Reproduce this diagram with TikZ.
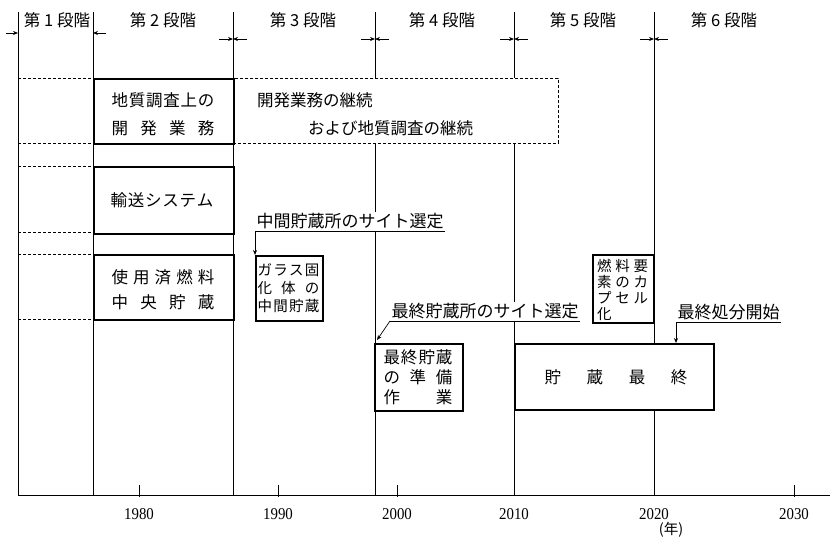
\documentclass[tikz,border=0pt]{standalone}
\usepackage{fontspec}
\setmainfont{Liberation Serif}
\newfontfamily\jp{Noto Sans CJK JP}
\usetikzlibrary{arrows.meta}
\newcommand{\dst}[2]{\makebox[#1][s]{#2}}
\begin{document}
\begin{tikzpicture}[x=1pt,y=-1pt,
  vline/.style={line width=0.9pt},
  dline/.style={line width=0.7pt, dash pattern=on 3pt off 2pt},
  box/.style={draw, line width=2pt, fill=white, inner sep=0pt, anchor=north west},
  jtxt/.style={font=\jp\fontsize{16.5}{18}\selectfont, inner sep=0pt},
  stxt/.style={font=\jp\fontsize{14.5}{16}\selectfont, inner sep=0pt},
  lbl/.style={font=\jp\fontsize{17}{18}\selectfont, fill=white, inner sep=1.5pt},
  ph/.style={font=\jp\fontsize{16.5}{18}\selectfont, inner sep=0pt},
  num/.style={font=\fontsize{16.5}{18}\selectfont, inner sep=0pt, xscale=0.9},
  arr/.style={-{Stealth[length=5pt,width=4pt]}, line width=0.7pt},
  uline/.style={line width=0.7pt}]
\useasboundingbox (0,0) rectangle (830,538);
% vertical phase lines
\foreach \x in {18,93,233,375,514,654}{\draw[vline] (\x,12) -- (\x,495);}
% axis
\draw[vline] (18,495) -- (830,495);
\foreach \x in {139,278,397,794}{\draw[vline] (\x,485) -- (\x,497);}
\node[num] (y1980) at (139,514) {1980};
\node[num] (y1990) at (278,514) {1990};
\node[num] (y2000) at (397,514) {2000};
\node[num] (y2010) at (514,514) {2010};
\node[num] (y2020) at (654,514) {2020};
\node[num] (y2030) at (794,514) {2030};
\node[font=\jp\fontsize{14.5}{16}\selectfont, inner sep=0pt] (nen) at (671,530) {(年)};
% phase labels
\node[ph] (ph1) at (57,20) {第 1 段階};
\node[ph] (ph2) at (163,20) {第 2 段階};
\node[ph] (ph3) at (303,20) {第 3 段階};
\node[ph] (ph4) at (442,20) {第 4 段階};
\node[ph] (ph5) at (583,20) {第 5 段階};
\node[ph] (ph6) at (724,20) {第 6 段階};
% phase boundary marks
\coordinate (m1) at (18,33); \coordinate (m1s) at (6,33);
\coordinate (m2) at (93,33); \coordinate (m2s) at (106,33);
\draw[arr] (m1s) -- (m1);
\draw[arr] (m2s) -- (m2);
\foreach \x in {233,375,514,654}{
  \coordinate (c\x) at (\x,39);
  \coordinate (l\x) at (\x-14,39);
  \coordinate (r\x) at (\x+14,39);
  \draw[arr] (l\x) -- (c\x);
  \draw[arr] (r\x) -- (c\x);
}
% left dashed lines
\foreach \y in {78,143,166,232,254,319}{\draw[dline] (18,\y) -- (93,\y);}
% dashed box
\node[draw, dline, fill=white, inner sep=0pt, anchor=north west,
  minimum width=325pt, minimum height=65pt] (db) at (233,78) {};
\node[jtxt, anchor=west] (db1) at (257,100) {開発業務の継続};
\node[jtxt, anchor=west] (db2) at (308,128) {および地質調査の継続};
% boxes
\node[box, minimum width=140pt, minimum height=65pt] (b1) at (93,78) {};
\node[jtxt] (b1a) at (163,100) {\dst{103pt}{地\hfill 質\hfill 調\hfill 査\hfill 上\hfill の}};
\node[jtxt] (b1b) at (163,128) {\dst{103pt}{開\hfill 発\hfill 業\hfill 務}};
\node[box, minimum width=140pt, minimum height=67pt] (b2) at (93,166) {};
\node[jtxt] (b2a) at (162,200) {\dst{103pt}{輸\hfill 送\hfill シ\hfill ス\hfill テ\hfill ム}};
\node[box, minimum width=140pt, minimum height=65pt] (b3) at (93,254) {};
\node[jtxt] (b3a) at (163,277) {\dst{103pt}{使\hfill 用\hfill 済\hfill 燃\hfill 料}};
\node[jtxt] (b3b) at (163,302) {\dst{103pt}{中\hfill 央\hfill 貯\hfill 蔵}};
\node[box, minimum width=67pt, minimum height=65pt] (b4) at (255,255) {};
\node[stxt] (b4a) at (288.5,270) {\dst{62pt}{ガ\hfill ラ\hfill ス\hfill 固}};
\node[stxt] (b4b) at (288.5,288) {\dst{62pt}{化\hfill 体\hfill の}};
\node[stxt] (b4c) at (288.5,306) {\dst{62pt}{中\hfill 間\hfill 貯\hfill 蔵}};
\node[box, minimum width=61pt, minimum height=68pt] (b5) at (592,254) {};
\node[stxt, anchor=west] (b5a) at (597,266) {\dst{51pt}{燃\hfill 料\hfill 要}};
\node[stxt, anchor=west] (b5b) at (597,282) {\dst{51pt}{素\hfill の\hfill カ}};
\node[stxt, anchor=west] (b5c) at (597,298) {\dst{51pt}{プ\hfill セ\hfill ル}};
\node[stxt, anchor=west] (b5d) at (597,314) {化};
\node[box, minimum width=88pt, minimum height=67pt] (b6) at (374,343) {};
\node[jtxt] (b6a) at (418,357) {\dst{69pt}{最\hfill 終\hfill 貯\hfill 蔵}};
\node[jtxt] (b6b) at (418,377) {\dst{69pt}{の\hfill 準\hfill 備}};
\node[jtxt] (b6c) at (418,397) {\dst{69pt}{作\hfill 業}};
\node[box, minimum width=199pt, minimum height=66pt] (b7) at (514,343) {};
\node[jtxt] (b7a) at (616,377) {\dst{143pt}{貯\hfill 蔵\hfill 最\hfill 終}};
% milestone labels
\node[lbl, anchor=south west] (lab1) at (255,231) {中間貯蔵所のサイト選定};
\draw[uline] (lab1.south west) -- (lab1.south east);
\draw[arr] (lab1.south west) -- (lab1.south west |- b4.north);
\node[lbl, anchor=south west] (lab2) at (390,321) {最終貯蔵所のサイト選定};
\draw[uline] (lab2.south west) -- (lab2.south east);
\coordinate (a2) at (377,340);
\draw[arr] (lab2.south west) -- (a2);
\node[lbl, anchor=south west] (lab3) at (676,322) {最終処分開始};
\draw[uline] (lab3.south west) -- (lab3.south east);
\draw[arr] (lab3.south west) -- (lab3.south west |- b7.north);
\end{tikzpicture}
\end{document}
